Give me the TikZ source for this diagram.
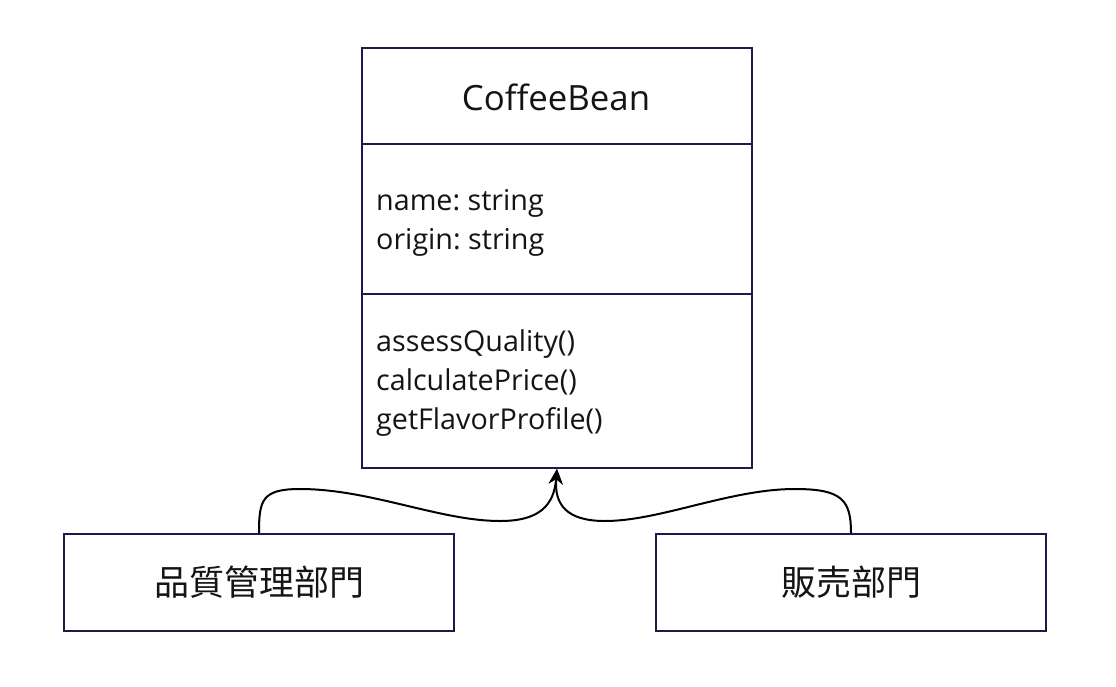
\documentclass[tikz,border=0pt]{standalone}
\usepackage{fontspec}
\setmainfont{Open Sans}
\newfontfamily\cjk{Noto Sans CJK TC}
\usetikzlibrary{arrows.meta}
\definecolor{navy}{RGB}{28,26,72}
\definecolor{ink}{RGB}{20,20,20}
\frenchspacing
\begin{document}
\begin{tikzpicture}[x=1pt,y=-1pt,
  boxline/.style={draw=navy,line width=2pt},
  member/.style={anchor=base west,inner sep=0pt,text=ink,font=\fontsize{28.7}{39}\selectfont},
  conn/.style={draw=black,line width=2pt,-{Stealth[length=15pt,width=14pt]}}]
\useasboundingbox (0,0) rectangle (1116,686);
% class box
\node[boxline,anchor=north west,minimum width=390pt,minimum height=420pt,inner sep=0pt] (cls) at (361,47) {};
\coordinate (d1l) at (361,144); \coordinate (d1r) at (751,144);
\coordinate (d2l) at (361,294); \coordinate (d2r) at (751,294);
\draw[navy,line width=2pt] (d1l) -- (d1r);
\draw[navy,line width=2pt] (d2l) -- (d2r);
\node[anchor=base,inner sep=0pt,text=ink,font=\fontsize{34.8}{40}\selectfont] (title) at (556,110) {CoffeeBean};
\node[member] (a1) at (376,210) {name: string};
\node[member] (a2) at (376,249) {origin: string};
\node[member] (m1) at (376,351) {assessQuality()};
\node[member] (m2) at (376,390) {calculatePrice()};
\node[member] (m3) at (376,429) {getFlavorProfile()};
% departments
\node[boxline,minimum width=390pt,minimum height=97pt,inner sep=0pt,text=ink,font=\cjk\fontsize{35}{40}\selectfont] (qa) at (259,582.5) {品質管理部門};
\node[boxline,minimum width=390pt,minimum height=97pt,inner sep=0pt,text=ink,font=\cjk\fontsize{35}{40}\selectfont] (sales) at (851,582.5) {販売部門};
\coordinate (tip) at (cls.south);
\draw[conn] (qa.north) .. controls (259,500) and (262,489) .. (300,489)
  .. controls (370,489) and (440,521) .. (500,521)
  .. controls (540,521) and (554,505) .. (tip);
\draw[conn] (sales.north) .. controls (851,500) and (842,489) .. (795,489)
  .. controls (730,489) and (660,521) .. (605,521)
  .. controls (567,521) and (554,505) .. (tip);
\end{tikzpicture}
\end{document}
